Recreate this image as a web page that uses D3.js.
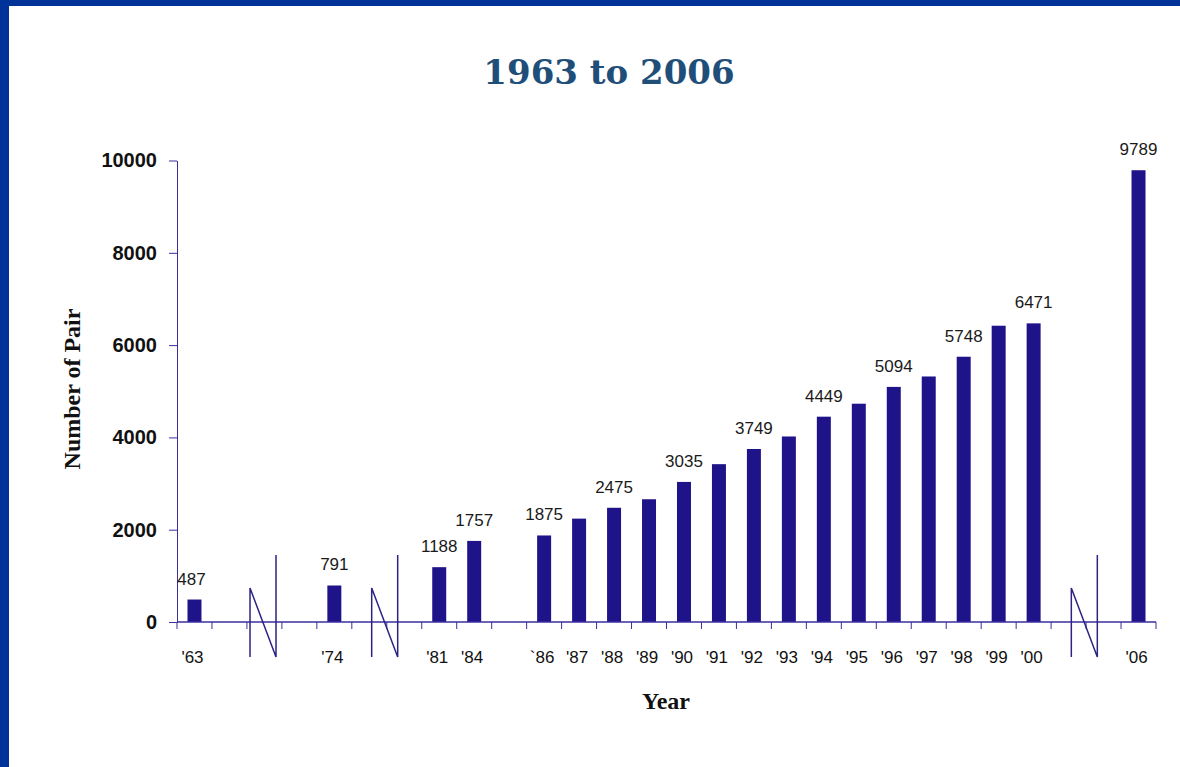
<!DOCTYPE html>
<html>
<head>
<meta charset="utf-8">
<script src="https://cdn.jsdelivr.net/npm/d3@7"></script>
<style>
  body { margin: 0; background: #fff; }
  svg { display: block; }
</style>
</head>
<body>
<div id="chart"></div>
<script>
// categories along the x axis; the "gap" entries are empty slots where the axis is broken
const categories = ["'63", "gap1", "gap2", "gap3", "'74", "gap4", "gap5", "'81", "'84", "gap6",
  "`86", "'87", "'88", "'89", "'90", "'91", "'92", "'93", "'94", "'95", "'96", "'97", "'98", "'99", "'00",
  "gap7", "gap8", "'06"]
const years  = ["'63", "'74", "'81", "'84", "`86", "'87", "'88", "'89", "'90", "'91", "'92", "'93", "'94", "'95", "'96", "'97", "'98", "'99", "'00", "'06"]
const values = [487, 791, 1188, 1757, 1875, 2240, 2475, 2660, 3035, 3420, 3749, 4020, 4449, 4730, 5094, 5320, 5748, 6420, 6471, 9789]
const shown  = [487, 791, 1188, 1757, 1875, 2475, 3035, 3749, 4449, 5094, 5748, 6471, 9789]
const yTicks = [0, 2000, 4000, 6000, 8000, 10000]
// axis breaks, in category units from the y axis
const breaks = [2.46, 5.94, 25.95]

const W = 1180, H = 767
const plotLeft = 177, plotRight = 1156, plotTop = 160.5, plotBottom = 622

const svg = d3.select("#chart").append("svg").attr("width", W).attr("height", H)

// blue frame
svg.append("rect").attr("x", 0).attr("y", 0).attr("width", W).attr("height", 6).attr("fill", "#003399")
svg.append("rect").attr("x", 0).attr("y", 0).attr("width", 9).attr("height", H).attr("fill", "#003399")

svg.append("text")
  .attr("x", 609).attr("y", 84)
  .attr("text-anchor", "middle")
  .style("font-family", "'DejaVu Serif', serif").style("font-weight", "bold").style("font-size", "34px")
  .attr("fill", "#1f4e79")
  .text("1963 to 2006")

const x = d3.scaleBand().domain(categories).range([plotLeft, plotRight]).padding(0)
const y = d3.scaleLinear().domain([0, 10000]).range([plotBottom, plotTop])
const u = d3.scaleLinear().domain([0, categories.length]).range([plotLeft, plotRight])

const axisColor = "#3b2f9e"

// y axis
const yAxis = svg.append("g")
  .attr("transform", `translate(${plotLeft},0)`)
  .call(d3.axisLeft(y).tickValues(yTicks).tickSize(8).tickSizeOuter(0).tickPadding(12).tickFormat(d => d))
yAxis.select(".domain").attr("stroke", axisColor)
yAxis.selectAll(".tick line").attr("stroke", axisColor)
yAxis.selectAll(".tick text")
  .style("font-family", "'Liberation Sans', Arial, sans-serif").style("font-weight", "bold").style("font-size", "20px")
  .attr("fill", "#111")

// bars
svg.append("g").selectAll("rect")
  .data(years)
  .join("rect")
  .attr("x", d => x(d) + x.bandwidth() * 0.3)
  .attr("width", x.bandwidth() * 0.4)
  .attr("y", (d, i) => y(values[i]))
  .attr("height", (d, i) => plotBottom - y(values[i]))
  .attr("fill", "#1f138a")

// value labels
svg.append("g").selectAll("text")
  .data(years.filter((d, i) => shown.includes(values[i])))
  .join("text")
  .attr("x", d => x(d) + x.bandwidth() / 2 - (d === "'63" ? 3 : 0))
  .attr("y", d => y(values[years.indexOf(d)]) - 15)
  .attr("text-anchor", "middle")
  .style("font-family", "'Liberation Sans', Arial, sans-serif").style("font-size", "17px")
  .attr("fill", "#1a1a1a")
  .text(d => values[years.indexOf(d)])

// x axis: line, ticks at category edges, labels at centres
const xAxis = svg.append("g")
xAxis.append("line")
  .attr("x1", plotLeft).attr("x2", plotRight).attr("y1", plotBottom).attr("y2", plotBottom)
  .attr("stroke", axisColor).attr("stroke-width", 1.5)
xAxis.selectAll("line.tick")
  .data(d3.range(categories.length + 1))
  .join("line").attr("class", "tick")
  .attr("x1", d => u(d)).attr("x2", d => u(d))
  .attr("y1", plotBottom).attr("y2", plotBottom + 7)
  .attr("stroke", axisColor)
xAxis.selectAll("text")
  .data(years)
  .join("text")
  .attr("x", d => x(d) + x.bandwidth() / 2 - 2)
  .attr("y", 663)
  .attr("text-anchor", "middle")
  .style("font-family", "'Liberation Sans', Arial, sans-serif").style("font-size", "17px")
  .attr("fill", "#111")
  .text(d => d)

// axis break marks (N shape)
svg.append("g").selectAll("path")
  .data(breaks)
  .join("path")
  .attr("d", d => {
    const a = u(d) - 13, b = u(d) + 13
    return `M${a},657 L${a},588 L${b},657 L${b},555`
  })
  .attr("fill", "none")
  .attr("stroke", "#2c2484").attr("stroke-width", 1.5)

// axis titles
svg.append("text")
  .attr("transform", "translate(80,389) rotate(-90)")
  .attr("text-anchor", "middle")
  .style("font-family", "'Liberation Serif', 'Times New Roman', serif").style("font-weight", "bold").style("font-size", "24px")
  .attr("fill", "#111")
  .text("Number of Pair")

svg.append("text")
  .attr("x", 666).attr("y", 709)
  .attr("text-anchor", "middle")
  .style("font-family", "'Liberation Serif', 'Times New Roman', serif").style("font-weight", "bold").style("font-size", "24px")
  .attr("fill", "#111")
  .text("Year")
</script>
</body>
</html>
